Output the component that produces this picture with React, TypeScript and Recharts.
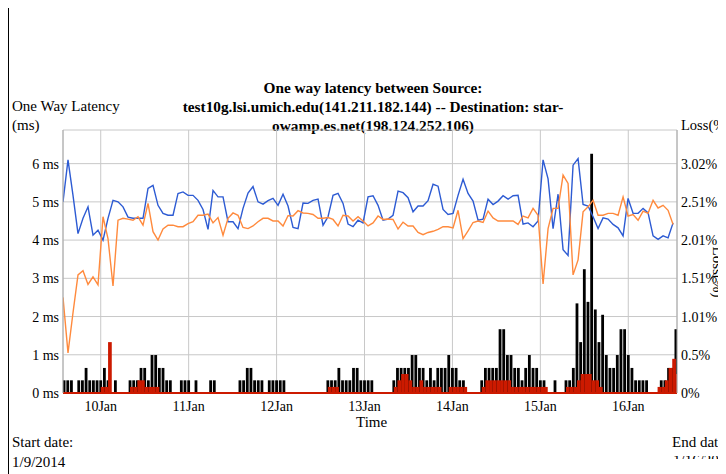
import { ComposedChart, Line, Bar, XAxis, YAxis, CartesianGrid } from 'recharts';

const SERIF = '"Liberation Serif", "Times New Roman", serif';

// latency samples: first one at 9 Jan 13:42, then every ~82 minutes (hours since 9 Jan 00:00)
const latencyStart = 13.7;
const latencyStep = 1.365;

const blueMs = [
  5.0, 6.1, 5.17, 4.17, 4.57, 4.87, 4.13, 4.26, 4.0, 4.57, 5.04, 5.0, 4.87, 4.6, 4.57, 4.57, 4.57, 5.35, 5.43, 4.91, 4.7, 4.65, 4.65, 5.22, 5.26, 5.17,
  5.17, 5.04, 4.8, 4.28, 5.3, 5.13, 5.13, 4.48, 4.48, 4.3, 4.83, 5.23, 5.4, 5.0, 4.94, 5.03, 5.09, 4.91, 5.2, 4.89, 4.33, 4.3, 4.97, 4.96, 5.04,
  5.07, 4.39, 4.61, 5.17, 5.22, 4.96, 4.42, 4.35, 4.52, 4.45, 5.13, 5.16, 4.91, 4.52, 4.55, 4.65, 5.28, 5.24, 5.11, 4.74, 4.89, 4.89, 5.03, 5.46, 5.41,
  4.8, 4.67, 4.7, 5.17, 5.59, 5.22, 5.02, 4.52, 4.55, 5.07, 4.93, 5.02, 5.16, 5.07, 5.16, 5.17, 4.42, 4.45, 4.35, 4.5, 6.1, 5.6, 4.3, 5.2, 3.75,
  3.6, 5.96, 6.13, 4.93, 4.89, 4.61, 4.3, 4.58, 4.55, 4.41, 4.32, 4.11, 5.09, 4.7, 4.7, 4.83, 4.71, 4.11, 4.02, 4.11, 4.06, 4.45,
];

const orangeMs = [
  2.5, 1.05, 2.1, 3.09, 3.2, 2.84, 3.04, 2.83, 4.61, 4.04, 2.8, 4.52, 4.57, 4.55, 4.52, 4.61, 4.39, 4.96, 4.22, 4.0, 4.29, 4.39, 4.39, 4.35, 4.35, 4.43,
  4.48, 4.65, 4.65, 4.68, 4.45, 4.59, 4.13, 4.57, 4.71, 4.65, 4.33, 4.3, 4.37, 4.48, 4.57, 4.57, 4.5, 4.5, 4.37, 4.64, 4.63, 4.77, 4.71, 4.7, 4.67,
  4.57, 4.57, 4.59, 4.54, 4.37, 4.65, 4.63, 4.5, 4.61, 4.5, 4.37, 4.45, 4.63, 4.54, 4.55, 4.54, 4.29, 4.47, 4.37, 4.37, 4.2, 4.14, 4.2, 4.23, 4.28,
  4.35, 4.35, 4.32, 4.78, 4.04, 4.24, 4.46, 4.5, 4.46, 4.76, 4.58, 4.5, 4.5, 4.5, 4.5, 4.41, 4.63, 4.58, 4.83, 4.65, 2.85, 4.3, 4.83, 4.83, 5.7,
  5.48, 3.09, 3.48, 4.74, 4.87, 5.04, 4.65, 4.65, 4.7, 4.7, 4.65, 5.13, 4.63, 4.67, 4.52, 4.76, 4.7, 5.04, 4.84, 4.91, 4.78, 4.41,
];

// hourly loss (%), first value at 9 Jan 14:00
const lossStart = 14;
const blackLoss = [
  0.167, 0.167, 0.167, 0, 0.167, 0.167, 0.33, 0.167, 0.167, 0.167,
  0.167, 0.33, 0.167, 0, 0.167, 0, 0, 0, 0.167, 0.167, 0.167, 0.33, 0.33, 0.167, 0.5, 0.5, 0.33, 0.33, 0.167, 0.167, 0, 0, 0.167, 0.167,
  0.167, 0, 0.167, 0, 0, 0, 0.167, 0.167, 0, 0, 0, 0, 0, 0, 0.167, 0.167, 0.33, 0.33, 0.167, 0.167, 0.167, 0, 0.167, 0.167,
  0.167, 0.167, 0.167, 0, 0, 0, 0, 0, 0, 0, 0, 0, 0, 0, 0.167, 0.167, 0.167, 0.33, 0.167, 0.167, 0.167, 0.33, 0.33, 0.167,
  0.167, 0.167, 0.167, 0, 0, 0, 0, 0, 0.167, 0.33, 0.33, 0.33, 0.33, 0.5, 0.5, 0.33, 0.33, 0.167, 0.33, 0.167, 0.33, 0.33, 0.33, 0.5,
  0.33, 0.33, 0.167, 0.167, 0, 0, 0, 0, 0.167, 0.33, 0.33, 0.33, 0.33, 0.84, 0.84, 0.5, 0.5, 0.33, 0.33, 0.167, 0.33, 0.5, 0.33, 0.33,
  0.167, 0.167, 0, 0, 0.167, 0, 0, 0.167, 0.167, 0.33, 1.18, 0.67, 1.63, 1.2, 3.15, 1.1, 0.67, 1.03, 0.5, 0.33, 0.33, 0.5, 0.84, 0.84,
  0.5, 0.33, 0.167, 0.167, 0.167, 0.167, 0, 0, 0, 0.167, 0.167, 0.33, 0.33, 0.84,
];
const redLoss = [
  0, 0, 0, 0, 0, 0, 0, 0, 0, 0,
  0.08, 0.08, 0.67, 0, 0, 0, 0, 0, 0.08, 0.08, 0.167, 0.167, 0.08, 0.08, 0.08, 0.08, 0, 0, 0, 0, 0, 0, 0, 0,
  0, 0, 0, 0, 0, 0, 0, 0, 0, 0, 0, 0, 0, 0, 0, 0, 0, 0, 0, 0, 0, 0, 0, 0,
  0, 0, 0, 0, 0, 0, 0, 0, 0, 0, 0, 0, 0, 0, 0.08, 0.08, 0.08, 0, 0, 0, 0, 0, 0, 0,
  0, 0, 0, 0, 0, 0, 0, 0, 0.08, 0.167, 0.25, 0.25, 0.167, 0.08, 0.08, 0.167, 0.08, 0.08, 0.08, 0.08, 0.08, 0, 0, 0.08,
  0.08, 0.08, 0.08, 0.08, 0, 0, 0, 0, 0.08, 0.167, 0.167, 0.167, 0.167, 0.167, 0.167, 0.167, 0.08, 0.08, 0.08, 0.08, 0.08, 0.08, 0.08, 0.08,
  0.08, 0.08, 0, 0, 0, 0, 0, 0.08, 0.08, 0.08, 0.167, 0.25, 0.25, 0.25, 0.167, 0.167, 0.08, 0, 0, 0, 0, 0, 0, 0,
  0, 0, 0, 0, 0, 0, 0, 0, 0.08, 0.08, 0.167, 0.33, 0.45, 0.25,
];

const dayTicks = [24, 48, 72, 96, 120, 144, 168];
const dayLabels = ['10Jan', '11Jan', '12Jan', '13Jan', '14Jan', '15Jan', '16Jan'];
const latencyTicks = [0, 1, 2, 3, 4, 5, 6];
const lossTicks = [0, 0.5033, 1.0067, 1.51, 2.0133, 2.5167, 3.02];
const lossTickLabels = ['0%', '0.5%', '1.01%', '1.51%', '2.01%', '2.51%', '3.02%'];

const latencyData = blueMs.map((v, i) => ({ t: latencyStart + i * latencyStep, blue: v, orange: orangeMs[i] }));
const lossData = blackLoss.map((v, i) => ({ t: lossStart + i, black: v, red: redLoss[i] }));

const tickStyle = { fill: '#000', fontSize: 14, fontFamily: SERIF };
const RED = '#cc1a00';

// thin black stick, centred on the bar slot whatever width recharts gives it
const Stick = (props: any) => {
  const { x, y, width, height } = props;
  if (!height || height <= 0) return null;
  return <rect x={x + width / 2 - 1.4} y={y} width={2.8} height={height} fill="#000" />;
};

// red loss block covering the whole hour after its timestamp
const Block = (props: any) => {
  const { x, y, width, height } = props;
  if (!height || height <= 0) return null;
  return <rect x={x + width / 2} y={y} width={3.7} height={height} fill={RED} />;
};

const text = (left: number, top: number, s: string, extra: any = {}) => (
  <div style={{ position: 'absolute', left, top, fontSize: 15, lineHeight: '19px', whiteSpace: 'nowrap', ...extra }}>{s}</div>
);

export default function App() {
  return (
    <div style={{ position: 'relative', width: 726, height: 474, margin: '-8px 0 0 -8px', fontFamily: SERIF, color: '#000', overflow: 'hidden', background: '#fff' }}>
      <div style={{ position: 'absolute', left: 8, top: 0, width: 1, height: 474, background: '#000' }} />

      <div style={{ position: 'absolute', left: 173, width: 400, top: 78, textAlign: 'center', fontWeight: 'bold', fontSize: 15.3, lineHeight: '19px', whiteSpace: 'nowrap' }}>
        <div>One way latency between Source:</div>
        <div>test10g.lsi.umich.edu(141.211.182.144) -- Destination: star-</div>
        <div>owamp.es.net(198.124.252.106)</div>
      </div>

      {text(12, 97, 'One Way Latency')}
      {text(12, 116, '(ms)')}
      {text(681, 116, 'Loss(%', { fontSize: 14.5 })}

      <div style={{ position: 'absolute', left: 0, top: 0 }}>
        <ComposedChart width={726} height={474} data={lossData} margin={{ top: 130, right: 4, bottom: 51, left: 8 }}>
          <CartesianGrid yAxisId="lat" stroke="#c8c8c8" />
          <XAxis dataKey="t" type="number" domain={[latencyStart, 181.3]} allowDataOverflow ticks={dayTicks}
            tickFormatter={(v) => dayLabels[dayTicks.indexOf(v)]} axisLine={{ stroke: RED, strokeWidth: 2 }} tickLine={false}
            tickSize={6} tickMargin={2} height={30} tick={tickStyle} />
          <YAxis yAxisId="lat" domain={[0, 6.88]} allowDataOverflow ticks={latencyTicks} tickFormatter={(v) => `${v} ms`}
            width={55} axisLine={{ stroke: '#aaa' }} tickLine={false} tickSize={3} tickMargin={1} tick={tickStyle} />
          <YAxis yAxisId="loss" orientation="right" domain={[0, 3.463]} allowDataOverflow ticks={lossTicks}
            tickFormatter={(v, i) => lossTickLabels[i]} width={45} axisLine={{ stroke: '#aaa' }} tickLine={false}
            tickSize={3} tickMargin={1} tick={tickStyle} />
          <Line yAxisId="lat" data={latencyData} dataKey="blue" stroke="#2d5bd3" strokeWidth={1.4} dot={false} isAnimationActive={false} />
          <Line yAxisId="lat" data={latencyData} dataKey="orange" stroke="#ff8a3d" strokeWidth={1.4} dot={false} isAnimationActive={false} />
          <Bar yAxisId="loss" dataKey="black" fill="#000" shape={Stick} isAnimationActive={false} />
          <Bar yAxisId="loss" dataKey="red" fill={RED} shape={Block} isAnimationActive={false} />
        </ComposedChart>
      </div>

      <div style={{ position: 'absolute', left: 717, top: 272, transform: 'translate(-50%, -50%) rotate(90deg)', fontSize: 15, whiteSpace: 'nowrap' }}>Loss(%)</div>

      {text(356, 413, 'Time')}
      {text(12, 433, 'Start date:')}
      {text(12, 453, '1/9/2014')}
      {text(672, 433, 'End date')}
      <div style={{ position: 'absolute', left: 673, top: 456, height: 3, overflow: 'hidden' }}>
        <div style={{ fontSize: 15, lineHeight: '19px', marginTop: -5, whiteSpace: 'nowrap' }}>1/16/2014</div>
      </div>
    </div>
  );
}
